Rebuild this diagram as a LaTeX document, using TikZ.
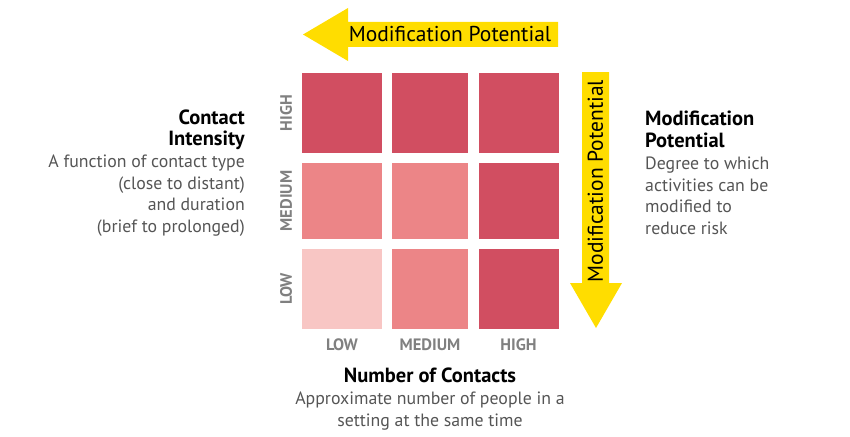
\documentclass[tikz,border=0pt]{standalone}
\usepackage{fontspec}
\setmainfont{PT Sans}
\usepackage{tikz}

\definecolor{darkcell}{RGB}{209,78,97}
\definecolor{midcell}{RGB}{236,133,135}
\definecolor{lightcell}{RGB}{248,198,196}
\definecolor{arrowyellow}{RGB}{255,221,0}
\definecolor{axisgray}{RGB}{128,128,128}
\definecolor{textgray}{RGB}{85,85,85}

\tikzset{
  cell/.style={minimum width=80pt,minimum height=80pt,inner sep=0pt},
  axislabel/.style={text=axisgray,font=\fontsize{16.5}{18}\selectfont\bfseries},
  desc/.style={inner sep=0pt,text=textgray,font=\fontsize{17.8}{21.7}\selectfont},
  arrowtext/.style={font=\fontsize{21.5}{24}\selectfont},
}
\newcommand{\headline}[1]{\textcolor{black}{\fontsize{20.5}{21.7}\selectfont\textbf{#1}}}

\begin{document}
\begin{tikzpicture}[x=1pt,y=-1pt]
      \useasboundingbox (0,0) rectangle (850,436);

      % matrix of cells
      \node[cell,fill=darkcell] (c11) at (342,113) {};
      \node[cell,fill=darkcell,minimum width=76pt] (c12) at (430,113) {};
      \node[cell,fill=darkcell] (c13) at (518.5,113) {};
      \node[cell,fill=midcell,minimum height=76pt] (c21) at (342,201) {};
      \node[cell,fill=midcell,minimum width=76pt,minimum height=76pt] (c22) at (430,201) {};
      \node[cell,fill=darkcell,minimum height=76pt] (c23) at (518.5,201) {};
      \node[cell,fill=lightcell] (c31) at (342,289) {};
      \node[cell,fill=midcell,minimum width=76pt] (c32) at (430,289) {};
      \node[cell,fill=darkcell] (c33) at (518.5,289) {};

      % axis labels
      \node[axislabel,rotate=90] (rhigh) at (286,113) {HIGH};
      \node[axislabel,rotate=90] (rmed) at (286,201) {MEDIUM};
      \node[axislabel,rotate=90] (rlow) at (286,289) {LOW};
      \node[axislabel] (clow) at (342,345) {LOW};
      \node[axislabel] (cmed) at (430,345) {MEDIUM};
      \node[axislabel] (chigh) at (518.5,345) {HIGH};

      % yellow arrows
      \fill[arrowyellow] (558,22) -- (348,22) -- (348,8) -- (303,34.5) -- (348,61) -- (348,47) -- (558,47) -- cycle;
      \node[arrowtext] (toplabel) at (450,34.5) {Modification Potential};
      \fill[arrowyellow] (582,72) -- (609,72) -- (609,283) -- (622,283) -- (596,328) -- (570,283) -- (582,283) -- cycle;
      \node[arrowtext,rotate=90] (sidelabel) at (595.5,181) {Modification Potential};

      % descriptions
      \node[desc,anchor=east,align=right] (intensity) at (245,173) {\headline{Contact}\\\headline{Intensity}\\A function of contact type\\(close to distant)\\and duration\\(brief to prolonged)};
      \node[desc,anchor=west,align=left] (potential) at (645,173) {\headline{Modification}\\\headline{Potential}\\Degree to which\\activities can be\\modified to\\reduce risk};
      \node[desc,anchor=north,align=center] (contacts) at (430,368) {\headline{Number of Contacts}\\Approximate number of people in a\\setting at the same time};
\end{tikzpicture}
\end{document}
